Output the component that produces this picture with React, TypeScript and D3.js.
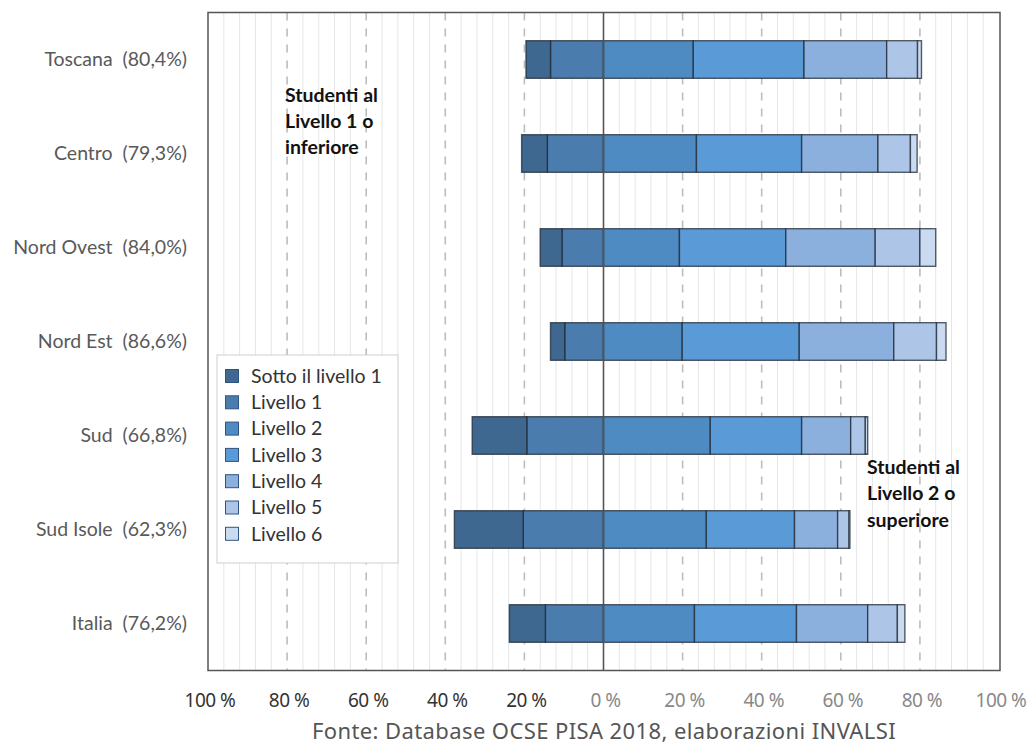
import React from "react";
import * as d3 from "d3";

// Regions with share of students at Level 2 or above
const regions = ["Toscana", "Centro", "Nord Ovest", "Nord Est", "Sud", "Sud Isole", "Italia"];
const shareLabels = ["80,4%", "79,3%", "84,0%", "86,6%", "66,8%", "62,3%", "76,2%"];

// Percent of students per proficiency level
const sotto = [6.2, 6.5, 5.5, 3.6, 13.8, 17.4, 9.1];
const liv1 = [13.4, 14.2, 10.5, 9.8, 19.4, 20.3, 14.7];
const liv2 = [22.7, 23.5, 19.2, 19.9, 27.0, 26.0, 23.0];
const liv3 = [28.0, 26.6, 26.9, 29.6, 23.1, 22.3, 25.8];
const liv4 = [20.9, 19.3, 22.6, 23.9, 12.4, 10.9, 18.0];
const liv5 = [7.8, 8.2, 11.3, 10.8, 3.7, 2.9, 7.5];
const liv6 = [1.0, 1.7, 4.0, 2.4, 0.6, 0.2, 1.9];

const levelNames = ["Sotto il livello 1", "Livello 1", "Livello 2", "Livello 3", "Livello 4", "Livello 5", "Livello 6"];
const levelColors = ["#3f6891", "#4a7cad", "#4f8bc3", "#5a9ad6", "#8bb0dd", "#adc6e7", "#cadbf1"];

const tickValues = [-100, -80, -60, -40, -20, 0, 20, 40, 60, 80, 100];

const W = 1028;
const H = 747;
const plot = { left: 208, right: 999, top: 12.5, bottom: 670.5 };

export default function App() {
  const x = d3.scaleLinear().domain([-100, 100]).range([plot.left, plot.right]);
  const y = d3
    .scaleBand<string>()
    .domain(regions)
    .range([plot.top, plot.bottom])
    .paddingInner(0.6)
    .paddingOuter(0.3);

  const minorTicks = d3.range(-96, 100, 4).filter((v) => v % 20 !== 0);
  const majorTicks = [-80, -60, -40, -20, 20, 40, 60, 80];

  // Build segments: lower levels stack leftwards from 0, higher ones rightwards
  const segments: { region: string; level: number; x0: number; x1: number }[] = [];
  regions.forEach((r, i) => {
    const left = [liv1[i], sotto[i]]; // from 0 outward
    const leftLevels = [1, 0];
    let acc = 0;
    left.forEach((v, k) => {
      segments.push({ region: r, level: leftLevels[k], x0: -(acc + v), x1: -acc });
      acc += v;
    });
    const right = [liv2[i], liv3[i], liv4[i], liv5[i], liv6[i]];
    const cum = d3.cumsum(right);
    right.forEach((v, k) => {
      segments.push({ region: r, level: k + 2, x0: cum[k] - v, x1: cum[k] });
    });
  });

  const calibri = "Lato, 'Open Sans', sans-serif";
  const geo = "'Noto Sans', Lato, sans-serif";

  return (
    <svg width={W} height={H} style={{ position: "absolute", left: 0, top: 0, background: "#fff" }}>
      <rect x={0} y={0} width={W} height={H} fill="#fff" />
      {/* minor grid */}
      {minorTicks.map((v) => (
        <line key={"m" + v} x1={x(v)} x2={x(v)} y1={plot.top} y2={plot.bottom} stroke="#e6e6e6" strokeWidth={1} />
      ))}
      {/* major dashed grid */}
      {majorTicks.map((v) => (
        <line
          key={"M" + v}
          x1={x(v)}
          x2={x(v)}
          y1={plot.top}
          y2={plot.bottom}
          stroke="#bdbdbd"
          strokeWidth={1.6}
          strokeDasharray="8 8"
        />
      ))}

      {/* bars */}
      {segments.map((s, i) => (
        <rect
          key={i}
          x={x(Math.min(s.x0, s.x1))}
          y={y(s.region)!}
          width={Math.abs(x(s.x1) - x(s.x0))}
          height={y.bandwidth()}
          fill={levelColors[s.level]}
          stroke="#1f2a36"
          strokeOpacity={0.75}
          strokeWidth={1.4}
        />
      ))}

      {/* zero line */}
      <line x1={x(0)} x2={x(0)} y1={plot.top} y2={plot.bottom} stroke="#555" strokeWidth={1.6} />

      {/* plot frame */}
      <rect
        x={plot.left}
        y={plot.top}
        width={plot.right - plot.left + 1}
        height={plot.bottom - plot.top}
        fill="none"
        stroke="#555"
        strokeWidth={1.5}
      />

      {/* category labels */}
      {regions.map((r, i) => (
        <text
          key={r}
          x={187}
          y={y(r)! + y.bandwidth() / 2}
          dy="0.35em"
          textAnchor="end"
          fontFamily={calibri}
          fontSize={19.5}
          fill="#595959"
          style={{ whiteSpace: "pre" }}
        >
          {`${r}  (${shareLabels[i]})`}
        </text>
      ))}

      {/* tick labels */}
      {tickValues.map((v) => (
        <text
          key={"t" + v}
          x={x(v) + 2}
          y={707}
          textAnchor="middle"
          fontFamily={geo}
          fontSize={19}
          fill={v < 0 ? "#333" : "#888"}
          letterSpacing={-0.5}
        >
          {`${Math.abs(v)} %`}
        </text>
      ))}

      {/* source */}
      <text x={604} y={739} textAnchor="middle" fontFamily={geo} fontSize={22} fill="#555" letterSpacing={0.4}>
        Fonte: Database OCSE PISA 2018, elaborazioni INVALSI
      </text>

      {/* annotations */}
      <g fontFamily={calibri} fontSize={19.5} fontWeight="bold" fill="#111">
        <text x={285} y={102}>Studenti al</text>
        <text x={285} y={128}>Livello 1 o</text>
        <text x={285} y={154}>inferiore</text>
        <text x={867} y={474}>Studenti al</text>
        <text x={867} y={500}>Livello 2 o</text>
        <text x={867} y={527}>superiore</text>
      </g>

      {/* legend */}
      <g>
        <rect x={217} y={355} width={181} height={208} fill="#fff" stroke="#cfcfcf" strokeWidth={1} />
        {levelNames.map((n, i) => {
          const cy = 376 + i * 26.3;
          return (
            <g key={n}>
              <rect x={225.5} y={cy - 6.5} width={13} height={13} fill={levelColors[i]} stroke="#2f5580" strokeWidth={1} />
              <text x={251} y={cy} dy="0.35em" fontFamily={calibri} fontSize={19.5} fill="#333">
                {n}
              </text>
            </g>
          );
        })}
      </g>
    </svg>
  );
}
